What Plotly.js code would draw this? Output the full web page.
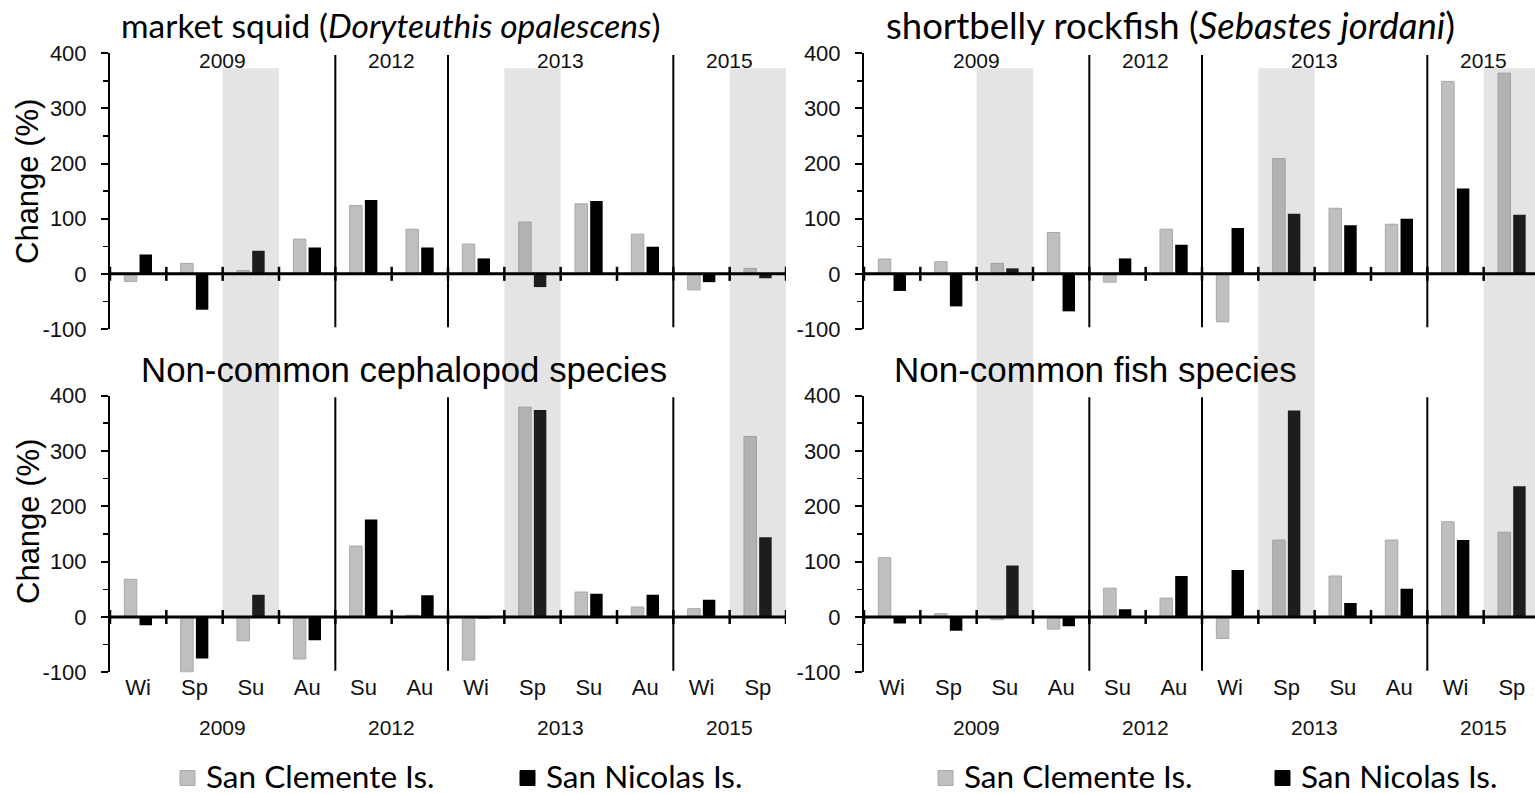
<!DOCTYPE html>
<html><head><meta charset="utf-8">
<script src="https://cdn.plot.ly/plotly-3.0.1.min.js"></script>
<style>html,body{margin:0;padding:0;background:#fff;overflow:hidden}#chart{width:1535px;height:794px}</style>
</head><body><div id="chart"></div>
<script>
// ---- data ----
const seasons = ['Wi','Sp','Su','Au','Su','Au','Wi','Sp','Su','Au','Wi','Sp'];
const years   = ['2009','2009','2009','2009','2012','2012','2013','2013','2013','2013','2015','2015'];
const shadedCats = ['Su 2009','Sp 2013','Sp 2015'];
const seriesNames = ['San Clemente Is.','San Nicolas Is.'];
const yTickVals = [-100, 0, 100, 200, 300, 400];
const yTickText = ['-100', '0', '100', '200', '300', '400'];

const squidSC = [-14, 19, 6, 63, 124, 81, 54, 94, 127, 72, -29, 10];
const squidSN = [35, -65, 42, 48, 134, 48, 28, -24, 132, 49, -15, -8];
const rockSC  = [27, 22, 19, 75, -15, 81, -87, 209, 119, 90, 349, 364];
const rockSN  = [-31, -59, 10, -68, 28, 53, 83, 109, 88, 100, 155, 107];
const cephSC  = [68, -100, -43, -76, 128, 3, -78, 379, 45, 18, 15, 326];
const cephSN  = [-15, -75, 40, -42, 176, 39, -3, 374, 42, 40, 31, 144];
const fishSC  = [107, 6, -5, -22, 52, 34, -39, 139, 74, 139, 172, 153];
const fishSN  = [-12, -25, 93, -17, 14, 74, 85, 373, 25, 51, 139, 236];

const titles = [
  'market squid (<i>Doryteuthis opalescens</i>)',
  'shortbelly rockfish (<i>Sebastes jordani</i>)',
  'Non-common cephalopod species',
  'Non-common fish species'
];
const yTitle = 'Change (%)';

// ---- geometry ----
const W = 1535, H = 794;
const px = v => v / W, py = v => 1 - v / H;
const xL = [px(110), px(786)], xR = [px(864), 1];
const yT = [py(329), py(53.3)], yB = [py(672.3), py(395.5)];
const YR = [-100, 400];
const cats = seasons.map((s, i) => s + ' ' + years[i]);
const N = cats.length;
const rightMax = -0.5 + (W - 864) / (676 / N);

const SC_COLOR = '#bfbfbf', SC_LINE = '#a8a8a8', SN_COLOR = '#000000';
const COLORS = [SC_COLOR, SN_COLOR], LINES = [SC_LINE, '#000'];
const FONT = 'Liberation Sans, Arial, sans-serif';
const CAL = 'Lato, Carlito, Calibri, sans-serif';

const panels = [
  {sc: squidSC, sn: squidSN, xa: 'x',  ya: 'y',  xd: xL, yd: yT, top: true},
  {sc: rockSC,  sn: rockSN,  xa: 'x2', ya: 'y2', xd: xR, yd: yT, top: true},
  {sc: cephSC,  sn: cephSN,  xa: 'x3', ya: 'y3', xd: xL, yd: yB, top: false},
  {sc: fishSC,  sn: fishSN,  xa: 'x4', ya: 'y4', xd: xR, yd: yB, top: false}
];

const traces = [];
panels.forEach(p => {
  [p.sc, p.sn].forEach((vals, s) => {
    traces.push({type: 'bar', x: cats, y: vals, name: seriesNames[s], xaxis: p.xa, yaxis: p.ya,
      marker: {color: COLORS[s], line: {color: LINES[s], width: s === 0 ? 1 : 0}},
      showlegend: false, hoverinfo: 'skip'});
  });
});

// group info
const groups = [];
years.forEach((y, i) => {
  if (!groups.length || groups[groups.length - 1].year !== y) groups.push({year: y, first: i, last: i});
  else groups[groups.length - 1].last = i;
});

const shapes = [];
const annotations = [];

// shading bands (span from top panel down to bottom panel zero line)
const shadeTop = yT[0] + (373 - YR[0]) / (YR[1] - YR[0]) * (yT[1] - yT[0]);
const shadeBot = yB[0] + (0 - YR[0]) / (YR[1] - YR[0]) * (yB[1] - yB[0]);
['x', 'x2'].forEach(xa => {
  shadedCats.forEach(c => {
    const i = cats.indexOf(c);
    shapes.push({type: 'rect', xref: xa, yref: 'paper', x0: i - 0.5, x1: i + 0.5, y0: shadeBot, y1: shadeTop,
      fillcolor: 'rgba(130,130,130,0.22)', line: {width: 0}, layer: 'above'});
  });
});

panels.forEach(p => {
  // zero axis line
  shapes.push({type: 'line', xref: p.xa, yref: p.ya, x0: -0.5, x1: N - 0.5, y0: 0, y1: 0,
    line: {color: '#000', width: 3}, layer: 'above'});
  // crossing ticks at category boundaries
  for (let k = 0; k <= N; k++) {
    shapes.push({type: 'line', xref: p.xa, yref: p.ya, ysizemode: 'pixel', yanchor: 0,
      x0: k - 0.5, x1: k - 0.5, y0: -7, y1: 7, line: {color: '#000', width: 2.5}, layer: 'above'});
  }
  // year separators
  groups.slice(1).forEach(g => {
    shapes.push({type: 'line', xref: p.xa, yref: p.ya, x0: g.first - 0.5, x1: g.first - 0.5, y0: -97, y1: 397,
      line: {color: '#000', width: 2}, layer: 'above'});
  });
  // year labels
  groups.forEach(g => {
    annotations.push({xref: p.xa, yref: 'paper', x: (g.first + g.last) / 2, y: p.top ? py(60) : py(727.5),
      text: g.year, showarrow: false, xanchor: 'center', yanchor: 'middle',
      font: {family: FONT, size: 21, color: '#111'}});
  });
});

// panel titles
const titleSpec = [
  {x: 390, y: 25, font: CAL, size: 33.5},
  {x: 1170, y: 25, font: CAL, size: 36.5},
  {x: 404, y: 369, font: FONT, size: 34.8},
  {x: 1095, y: 369, font: FONT, size: 35}
];
titleSpec.forEach((t, i) => annotations.push({xref: 'paper', yref: 'paper', x: px(t.x), y: py(t.y), text: titles[i],
  showarrow: false, xanchor: 'center', yanchor: 'middle', font: {family: t.font, size: t.size, color: '#000'}}));
// y titles
[182, 522].forEach(yc => annotations.push({xref: 'paper', yref: 'paper', x: px(28), y: py(yc), text: yTitle,
  showarrow: false, textangle: -90, xanchor: 'center', yanchor: 'middle', font: {family: FONT, size: 31, color: '#000'}}));

// legend (one per column): swatch + label
const legendY = 776, sw = 15;
[[180, 520], [938, 1275]].forEach(col => {
  col.forEach((x0, s) => {
    shapes.push({type: 'rect', xref: 'paper', yref: 'paper', x0: px(x0), x1: px(x0 + sw),
      y0: py(legendY + 2 + sw / 2), y1: py(legendY + 2 - sw / 2), fillcolor: COLORS[s],
      line: {color: LINES[s], width: 1}, layer: 'above'});
    annotations.push({xref: 'paper', yref: 'paper', x: px(x0 + sw + 9), y: py(legendY), text: seriesNames[s],
      showarrow: false, xanchor: 'left', yanchor: 'middle', font: {family: CAL, size: 31.5, color: '#000'}});
  });
});

function xaxis(p) {
  return {domain: p.xd, anchor: p.ya, type: 'category', categoryorder: 'array', categoryarray: cats,
    range: [-0.5, p.xd === xR ? rightMax : N - 0.5], showline: false, showgrid: false, zeroline: false,
    tickmode: 'array', tickvals: cats, ticktext: seasons, showticklabels: !p.top,
    ticks: '', tickfont: {family: FONT, size: 22, color: '#111'}, fixedrange: true, automargin: false};
}
function yaxis(p) {
  return {domain: p.yd, anchor: p.xa, range: YR, showline: true, linecolor: '#000', linewidth: 2,
    showgrid: false, zeroline: false, ticks: 'outside', ticklen: 7, tickwidth: 2, tickcolor: '#000',
    tickmode: 'array', tickvals: yTickVals, ticktext: yTickText, ticklabelstandoff: 10,
    minor: {dtick: 50, tick0: 0, ticks: 'outside', ticklen: 5, tickwidth: 1.5, tickcolor: '#000'},
    tickfont: {family: FONT, size: 22, color: '#111'}, fixedrange: true, automargin: false};
}

const layout = {
  width: W, height: H, margin: {l: 0, r: 0, t: 0, b: 0, pad: 0},
  paper_bgcolor: '#fff', plot_bgcolor: 'rgba(0,0,0,0)',
  barmode: 'group', bargap: 0.46, bargroupgap: 0.18,
  hovermode: false, showlegend: false,
  xaxis: xaxis(panels[0]), yaxis: yaxis(panels[0]),
  xaxis2: xaxis(panels[1]), yaxis2: yaxis(panels[1]),
  xaxis3: xaxis(panels[2]), yaxis3: yaxis(panels[2]),
  xaxis4: xaxis(panels[3]), yaxis4: yaxis(panels[3]),
  shapes: shapes,
  annotations: annotations
};

Plotly.newPlot('chart', traces, layout, {staticPlot: true, displayModeBar: false});
</script>
</body></html>
